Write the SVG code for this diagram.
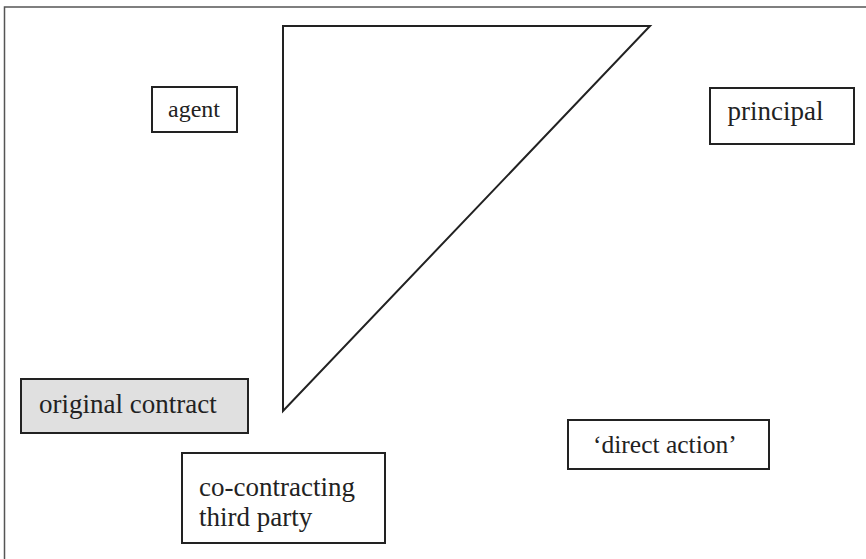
<svg xmlns="http://www.w3.org/2000/svg" width="866" height="559" viewBox="0 0 866 559">
  <style>
    .box { fill: #ffffff; stroke: #222222; stroke-width: 2; }
    .shaded { fill: #e0e0e0; }
    .lbl { font-family: "Liberation Serif", "Times New Roman", serif; font-size: 27px; fill: #222222; }
    .frame { fill: none; stroke: #555555; stroke-width: 1.5; }
  </style>
  <rect width="866" height="559" fill="#ffffff"/>
  <!-- outer frame -->
  <rect class="frame" x="4.5" y="7" width="870" height="560"/>

  <!-- triangle -->
  <g id="connectors">
    <polygon points="283,26 650,26 283,411" fill="none" stroke="#222222" stroke-width="2" stroke-linejoin="miter"/>
  </g>

  <g id="agent">
    <rect class="box" x="152" y="87" width="85" height="45"/>
    <text class="lbl" x="168" y="117" style="font-size:24px">agent</text>
  </g>

  <g id="principal">
    <rect class="box" x="710" y="88" width="144" height="56"/>
    <text class="lbl" x="727.5" y="120">principal</text>
  </g>

  <g id="original-contract">
    <rect class="box shaded" x="21" y="379" width="227" height="54"/>
    <text class="lbl" x="39" y="413">original contract</text>
  </g>

  <g id="third-party">
    <rect class="box" x="182" y="453" width="203" height="90"/>
    <text class="lbl" x="199" y="496">co-contracting</text>
    <text class="lbl" x="199" y="526">third party</text>
  </g>

  <g id="direct-action">
    <rect class="box" x="568" y="420" width="201" height="49"/>
    <text class="lbl" x="593" y="453" style="font-size:25.5px">‘direct action’</text>
  </g>
</svg>
